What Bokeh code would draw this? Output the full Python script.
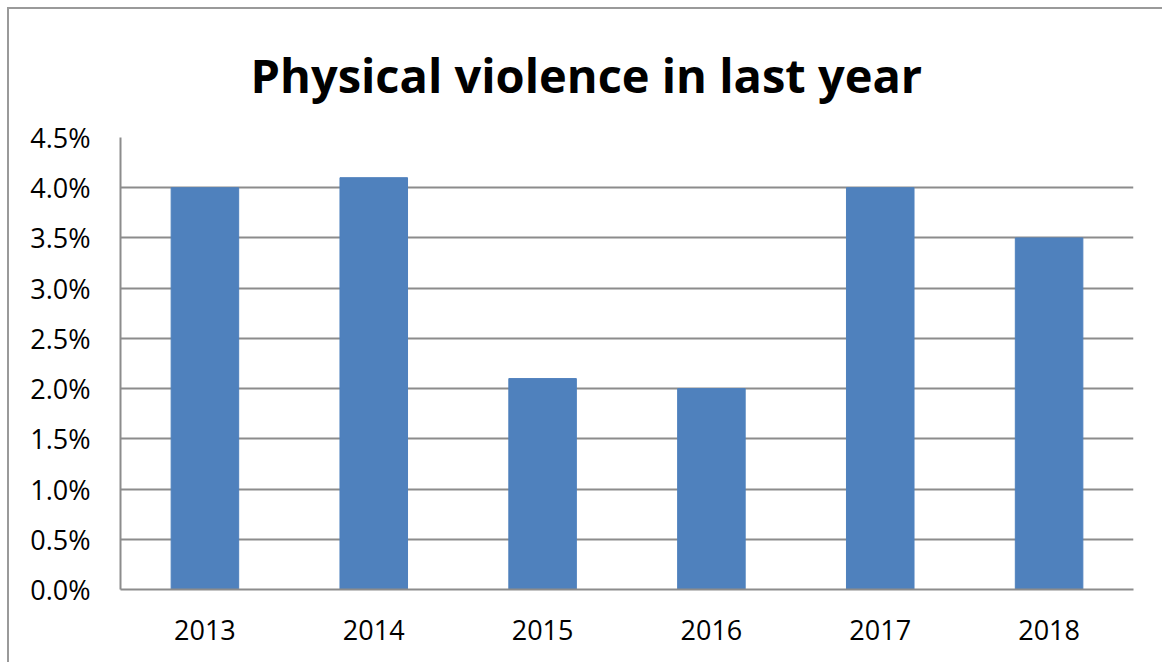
from bokeh.plotting import figure
from bokeh.models import NumeralTickFormatter, FixedTicker, Title, Range1d, FactorRange
from bokeh.embed import file_html
from bokeh.resources import INLINE

years = ["2013", "2014", "2015", "2016", "2017", "2018"]
values = [0.040, 0.041, 0.021, 0.020, 0.040, 0.035]
y_ticks = [0.0, 0.005, 0.010, 0.015, 0.020, 0.025, 0.030, 0.035, 0.040, 0.045]
title_text = "Physical violence in last year"

FONT = "Open Sans"
GRID = "#8c8c8c"

p = figure(x_range=FactorRange(*years, range_padding=0), y_range=Range1d(0, 0.045),
           width=1155, height=655, output_backend="svg", toolbar_location=None,
           min_border_left=111, min_border_right=31, min_border_top=127, min_border_bottom=75)
p.styles = {"border-left": "2px solid #9a9a9a", "border-top": "2px solid #9a9a9a",
            "border-right": "none", "border-bottom": "none",
            "margin-left": "7px", "margin-top": "7px"}

p.vbar(x=years, top=values, width=0.40, fill_color="#4f81bd", line_color="#4f81bd")

t = Title(text=title_text, align="left", offset=130, text_font=FONT, text_font_size="47px",
          text_font_style="bold", text_color="#000000", standoff=62)
p.add_layout(t, "above")

p.outline_line_color = None
p.xgrid.grid_line_color = None
p.ygrid.grid_line_color = GRID
p.ygrid.grid_line_width = 2
p.yaxis.ticker = FixedTicker(ticks=y_ticks)
p.yaxis.formatter = NumeralTickFormatter(format="0.0%")

for ax in (p.xaxis[0], p.yaxis[0]):
    ax.axis_line_color = GRID
    ax.axis_line_width = 2
    ax.major_tick_line_color = None
    ax.minor_tick_line_color = None
    ax.major_label_text_font = FONT
    ax.major_label_text_font_size = "27px"
    ax.major_label_text_color = "#000000"
p.yaxis.major_label_standoff = 24
p.xaxis.major_label_standoff = 24

open("out.html", "w").write(file_html(p, INLINE))
